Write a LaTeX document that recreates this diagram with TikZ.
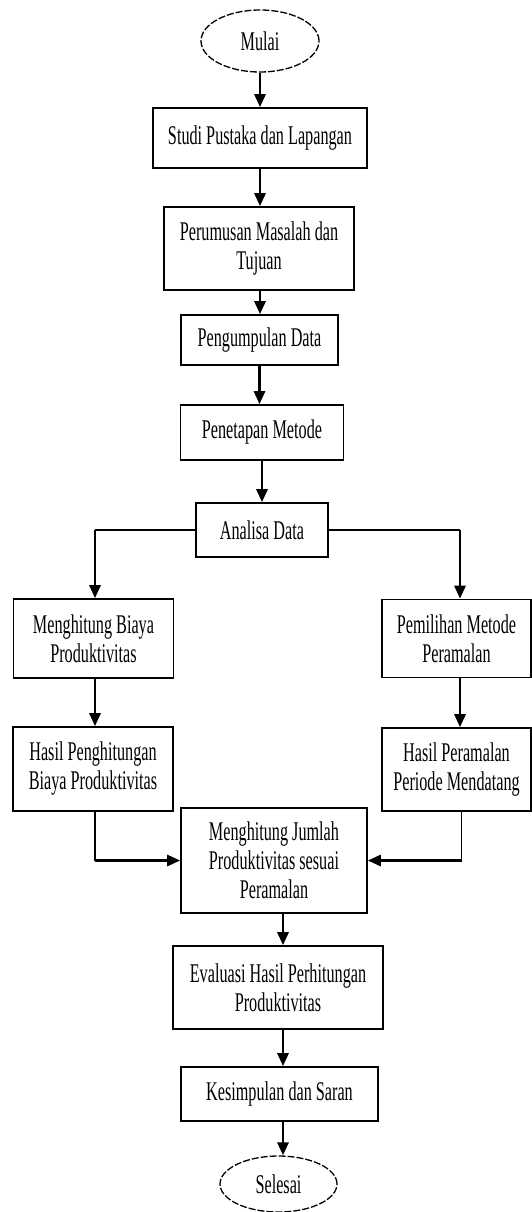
\documentclass[tikz,border=0pt]{standalone}
\usepackage{fontspec}
\setmainfont{Liberation Serif}[FakeStretch=0.6]
\usetikzlibrary{shapes.geometric, arrows.meta}
\tikzstyle{proses}=[rectangle, draw=black, line width=1.6pt, align=center, inner sep=0pt, font=\fontsize{27}{29}\selectfont]
\tikzstyle{terminal}=[ellipse, draw=black, line width=1.3pt, dash pattern=on 7pt off 2pt, inner sep=0pt, font=\fontsize{27}{29}\selectfont]
\tikzstyle{arah}=[line width=2.8pt, -{Triangle[width=11pt, length=13pt]}]
\tikzstyle{garis}=[line width=1.4pt]

\begin{document}
\begin{tikzpicture}[x=1pt, y=-1pt]
				\useasboundingbox (0,0) rectangle (532,1212);

				% Alur utama
				\node[terminal, minimum width=118pt, minimum height=62pt] (mulai) at (260,41) {Mulai};
				\node[proses, minimum width=214pt, minimum height=60pt] (studi) at (260,138) {Studi Pustaka dan Lapangan};
				\node[proses, minimum width=190pt, minimum height=83pt] (rumus) at (259,248.5) {Perumusan Masalah dan\\Tujuan};
				\node[proses, minimum width=157pt, minimum height=50pt] (kumpul) at (259.5,340) {Pengumpulan Data};
				\node[proses, minimum width=163pt, minimum height=55pt] (tetap) at (262,432.5) {Penetapan Metode};
				\node[proses, minimum width=132pt, minimum height=54pt] (analisa) at (262,530) {Analisa Data};

				% Cabang kiri dan kanan
				\node[proses, minimum width=160pt, minimum height=79pt] (biaya) at (93.5,638.5) {Menghitung Biaya\\Produktivitas};
				\node[proses, minimum width=160pt, minimum height=84pt] (hasilb) at (93,769) {Hasil Penghitungan\\Biaya Produktivitas};
				\node[proses, minimum width=149pt, minimum height=78pt] (pilih) at (456.5,638.5) {Pemilihan Metode\\Peramalan};
				\node[proses, minimum width=149pt, minimum height=83pt] (hasilp) at (456.5,769.5) {Hasil Peramalan\\Periode Mendatang};

				% Penutup
				\node[proses, minimum width=186pt, minimum height=105pt] (jumlah) at (274,860.5) {Menghitung Jumlah\\Produktivitas sesuai\\Peramalan};
				\node[proses, minimum width=210pt, minimum height=83pt] (evaluasi) at (278,987.5) {Evaluasi Hasil Perhitungan\\Produktivitas};
				\node[proses, minimum width=197pt, minimum height=54pt] (simpul) at (279.5,1094) {Kesimpulan dan Saran};
				\node[terminal, minimum width=117pt, minimum height=56pt] (selesai) at (278.5,1184) {Selesai};

				% Panah lurus
				\draw[arah] (mulai.south) -- (mulai.south |- studi.north);
				\draw[arah] (studi.south) -- (studi.south |- rumus.north);
				\draw[arah] ([xshift=1pt]rumus.south) -- ([xshift=1pt]rumus.south |- kumpul.north);
				\draw[arah] (kumpul.south) -- (kumpul.south |- tetap.north);
				\draw[arah] (tetap.south) -- (tetap.south |- analisa.north);
				\draw[arah] ([xshift=1.5pt]biaya.south) -- ([xshift=1.5pt]biaya.south |- hasilb.north);
				\draw[arah] ([xshift=3.5pt]pilih.south) -- ([xshift=3.5pt]pilih.south |- hasilp.north);
				\draw[arah] ([xshift=9pt]jumlah.south) -- ([xshift=9pt]jumlah.south |- evaluasi.north);
				\draw[arah] ([xshift=5pt]evaluasi.south) -- ([xshift=5pt]evaluasi.south |- simpul.north);
				\draw[arah] ([xshift=3.5pt]simpul.south) -- ([xshift=3.5pt]simpul.south |- selesai.north);

				% Percabangan dari Analisa Data
				\coordinate (belokkiri) at ([xshift=1.5pt]biaya.north |- analisa.west);
				\coordinate (belokkanan) at ([xshift=3.5pt]pilih.north |- analisa.east);
				\draw[garis] (analisa.west) -- (belokkiri);
				\draw[arah] (belokkiri) -- (belokkiri |- biaya.north);
				\draw[garis] (analisa.east) -- (belokkanan);
				\draw[arah] (belokkanan) -- (belokkanan |- pilih.north);

				% Pertemuan ke Menghitung Jumlah
				\coordinate (temukiri) at ([xshift=2pt]hasilb.south |- jumlah.west);
				\coordinate (temukanan) at ([xshift=5pt]hasilp.south |- jumlah.east);
				\draw[garis] ([xshift=2pt]hasilb.south) -- (temukiri);
				\draw[arah] (temukiri) -- (jumlah.west);
				\draw[garis] ([xshift=5pt]hasilp.south) -- (temukanan);
				\draw[arah] (temukanan) -- (jumlah.east);
			\end{tikzpicture}
\end{document}
